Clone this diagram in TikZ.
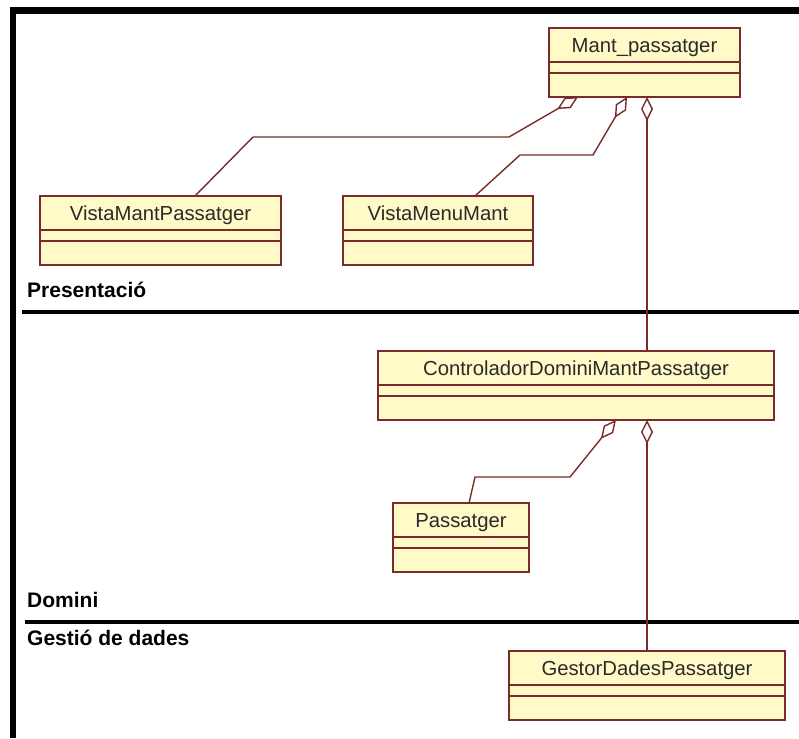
\documentclass[tikz,border=0pt]{standalone}
\usepackage{fontspec}
\setmainfont{Liberation Sans}
\usepackage{tikz}
\usetikzlibrary{arrows.meta,positioning,calc,shapes.multipart}
\definecolor{umlline}{HTML}{7A2A2A}
\definecolor{umlfill}{HTML}{FFFAC8}
\definecolor{umltext}{HTML}{2A2A2A}
% name / attributes / operations
\newcommand{\clsparts}[1]{\rule[-9pt]{0pt}{32.5pt}#1\nodepart{second}\rule{0pt}{9.5pt}\nodepart{third}\rule{0pt}{22.5pt}}

\begin{document}
\begin{tikzpicture}[x=1pt, y=-1pt,
  classbox/.style={rectangle split, rectangle split parts=3, draw=umlline, fill=umlfill,
                   line width=1.5pt, inner xsep=3pt, inner ysep=0pt, outer sep=0pt,
                   anchor=north west, font=\fontsize{20.3}{24}\selectfont, text=umltext},
  aggr/.style={-{Diamond[open, length=24pt, width=12pt]}, line width=1.4pt, draw=umlline},
  layerlbl/.style={anchor=base west, inner sep=0pt, font=\fontsize{21}{24}\selectfont\bfseries},
  layerrule/.style={line width=4pt}
]
  \useasboundingbox (0,0) rectangle (799,738);
  \draw[line width=6.5pt, line join=miter] (13,738) -- (13,10.5) -- (799,10.5);

  % layers
  \draw[layerrule] (22,311.5) -- (799,311.5);
  \draw[layerrule] (25,621.5) -- (799,621.5);
  \node[layerlbl] (presentacio) at (27,297) {Presentació};
  \node[layerlbl] (domini) at (27,607) {Domini};
  \node[layerlbl] (gestio) at (27,645) {Gestió de dades};

  % classes
  \node[classbox, minimum width=191pt] (mant) at (549,28) {\clsparts{Mant\_passatger}};
  \node[classbox, minimum width=241pt] (vmp) at (40,196) {\clsparts{VistaMantPassatger}};
  \node[classbox, minimum width=190pt] (vmm) at (343,196) {\clsparts{VistaMenuMant}};
  \node[classbox, minimum width=396pt] (ctrl) at (378,351) {\clsparts{ControladorDominiMantPassatger}};
  \node[classbox, minimum width=136pt] (pass) at (393,503) {\clsparts{Passatger}};
  \node[classbox, minimum width=276pt] (gestor) at (509,651) {\clsparts{GestorDadesPassatger}};

  % aggregations
  \draw[aggr] ([xshift=155pt]vmp.north west) -- (253,137) -- (509,137) -- ([xshift=-66.5pt]mant.south);
  \draw[aggr] ([xshift=132pt]vmm.north west) -- (520,155) -- (593,155) -- ([xshift=-17.5pt]mant.south);
  \draw[aggr] ([xshift=71pt]ctrl.north) -- ([xshift=71pt]ctrl.north |- mant.south);
  \draw[aggr] ([xshift=76pt]pass.north west) -- (475,477) -- (570,477) -- ([xshift=40pt]ctrl.south);
  \draw[aggr] (gestor.north) -- (gestor.north |- ctrl.south);
\end{tikzpicture}
\end{document}
